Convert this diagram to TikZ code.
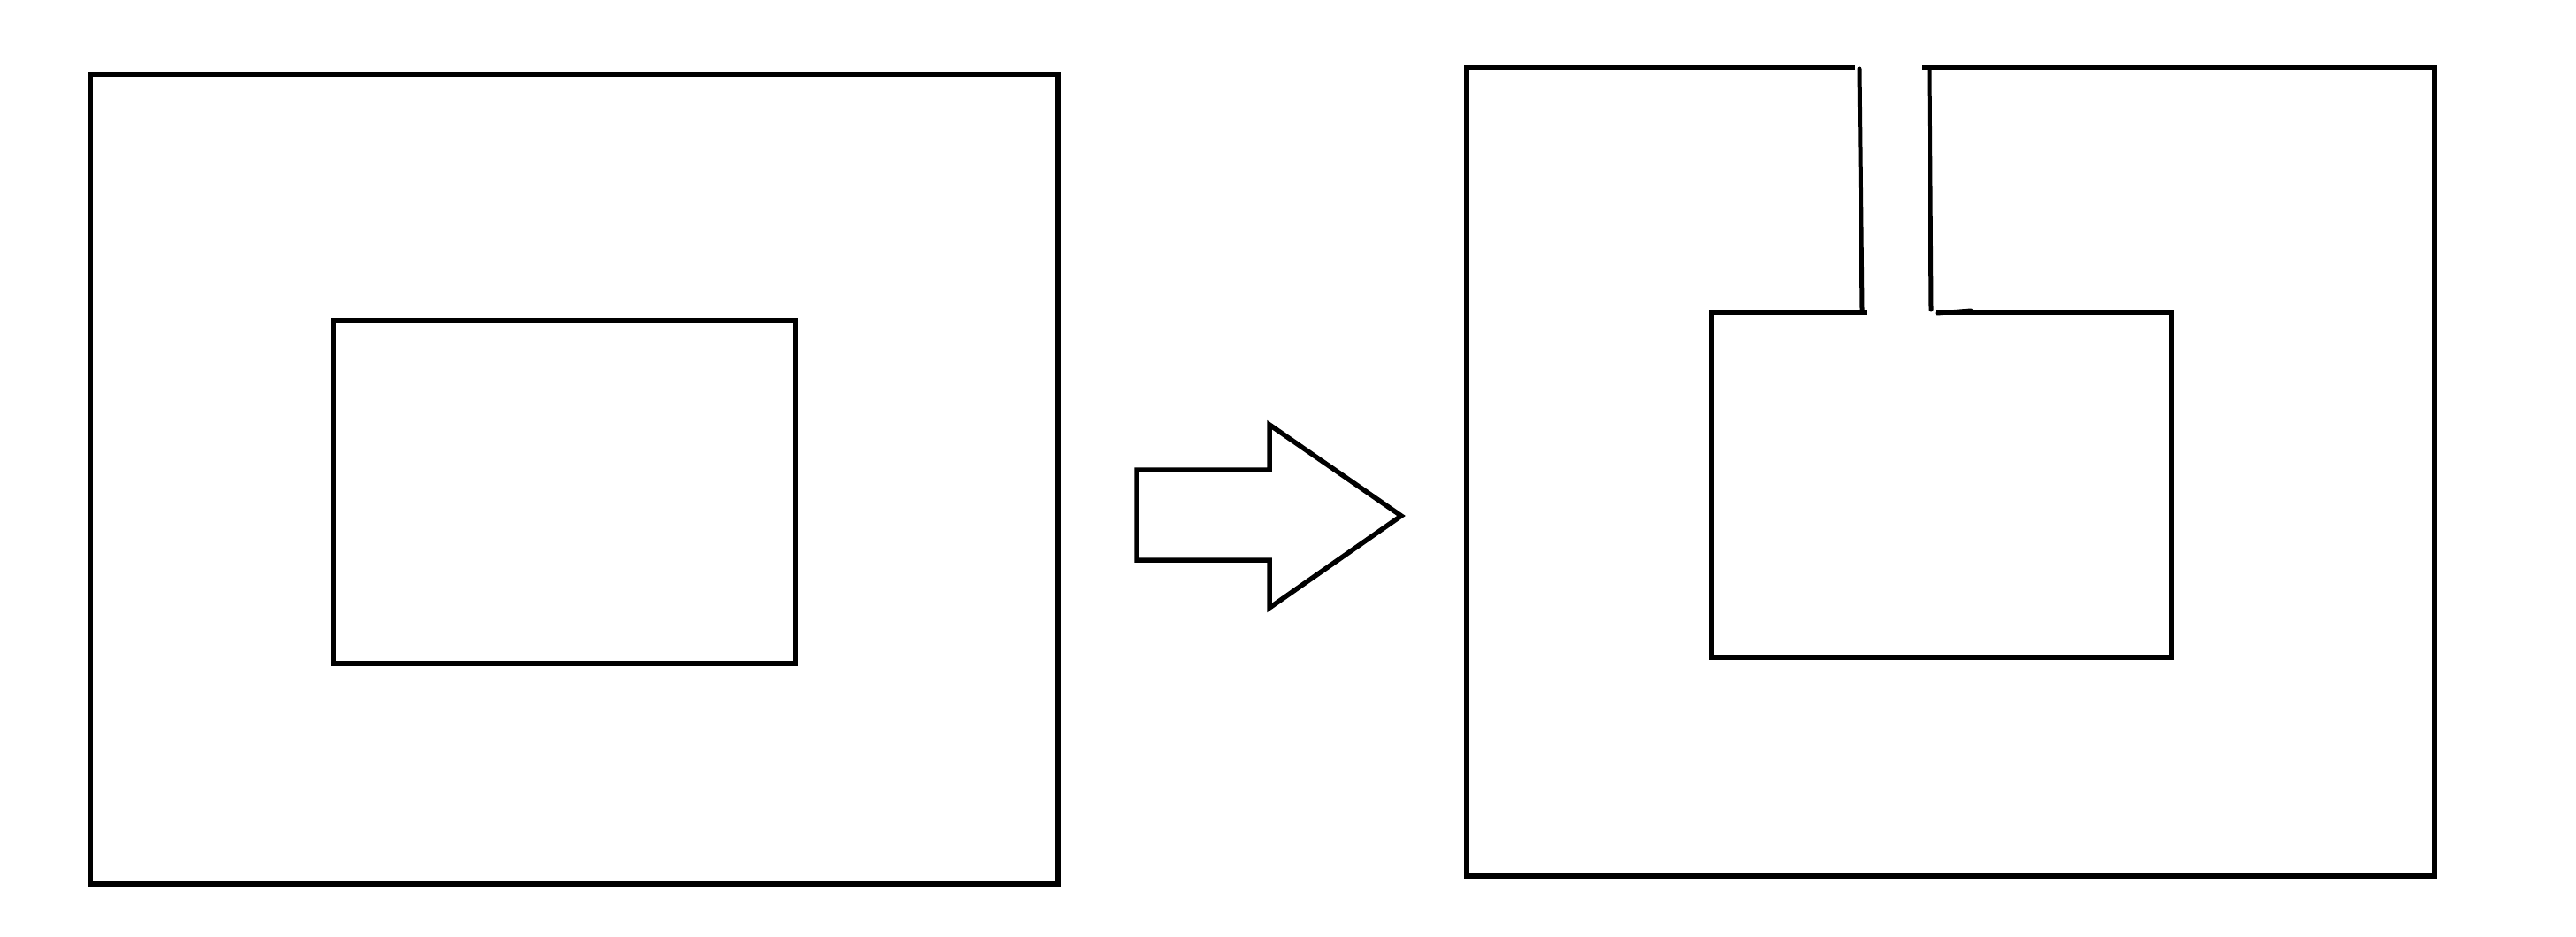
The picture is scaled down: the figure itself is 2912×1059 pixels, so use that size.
\documentclass[tikz,border=0pt]{standalone}
\begin{document}
\begin{tikzpicture}[x=1pt,y=-1pt,
  edge/.style={draw=black,line width=5.5pt,line join=miter},
  thinedge/.style={draw=black,line width=5pt,line cap=round}]
\useasboundingbox[fill=white] (0,0) rectangle (2912,1059);
% left: closed ring
\draw[edge] (102,84) rectangle (1196,999);
\draw[edge] (377,362) rectangle (899,750);
% arrow
\draw[edge] (1285,531) -- (1435,531) -- (1435,480) -- (1584,583) -- (1435,687) -- (1435,633) -- (1285,633) -- cycle;
% right: ring with a cut
\draw[edge] (2097,76) -- (1658,76) -- (1658,990) -- (2752,990) -- (2752,76) -- (2173,76);
\draw[edge] (2110,353) -- (1935,353) -- (1935,743) -- (2455,743) -- (2455,353) -- (2188,353);
\draw[thinedge] (2102,78) -- (2105,350);
\draw[thinedge] (2181,78) -- (2183,350);
\draw[thinedge] (2190,354) -- (2228,351);
\end{tikzpicture}
\end{document}
